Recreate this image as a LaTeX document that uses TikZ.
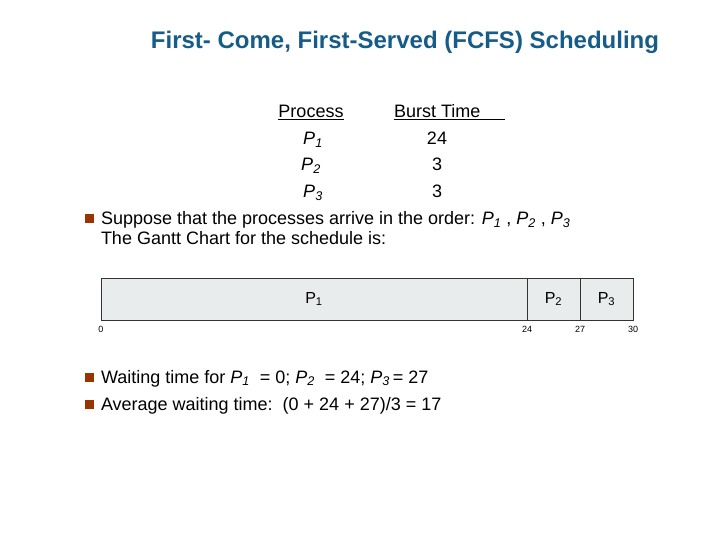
\documentclass[tikz,border=0pt]{standalone}
\usepackage{fontspec}
\setmainfont{Liberation Sans}
\usetikzlibrary{positioning}
\definecolor{titleblue}{RGB}{22,92,136}
\definecolor{bulletred}{RGB}{153,51,0}
\definecolor{ganttgray}{RGB}{232,236,236}
\newcommand{\proc}[1]{\textit{P}\textsubscript{\textit{#1}}}
\newcommand{\gproc}[1]{P\textsubscript{#1}}
\begin{document}
\begin{tikzpicture}[x=1pt,y=-1pt,
                    every node/.style={inner sep=0pt, outer sep=0pt, font=\fontsize{18}{20}\selectfont},
                    txt/.style={anchor=base west},
                    ctr/.style={anchor=base},
                    bullet/.style={rectangle, fill=bulletred, minimum size=9pt},
                    slot/.style={rectangle, draw=black!80, line width=0.5pt, fill=ganttgray, minimum height=42pt, font=\fontsize{16}{18}\selectfont},
                    tick/.style={anchor=north, font=\fontsize{9}{10}\selectfont}]
                    \useasboundingbox (0,0) rectangle (720,540);
                    \node[anchor=base, text=titleblue, font=\fontsize{24}{28}\selectfont\bfseries] (title) at (405,49) {First- Come, First-Served (FCFS) Scheduling};
                    % table
                    \node[ctr] (hproc) at (311,118) {\underline{Process}};
                    \node[txt] (hburst) at (394,118) {\underline{Burst Time\hspace{25pt}}};
                    \node[ctr] (p1) at (313,145) {\proc{1}};
                    \node[ctr] (p2) at (311,171) {\proc{2}};
                    \node[ctr] (p3) at (313,198) {\proc{3}};
                    \node[ctr] (t1) at (437,145) {24};
                    \node[ctr] (t2) at (437,171) {3};
                    \node[ctr] (t3) at (437,198) {3};
                    % bullets
                    \node[bullet] (b1) at (89,219) {};
                    \node[txt] (s1) at (101,225) {Suppose that the processes arrive in the order: \proc{1} , \proc{2} , \proc{3}};
                    \node[txt] (s2) at (101,244) {The Gantt Chart for the schedule is:};
                    % gantt chart
                    \node[slot, anchor=north west, minimum width=426pt] (g1) at (101,278) {\gproc{1}};
                    \node[slot, right=0pt of g1, minimum width=53pt] (g2) {\gproc{2}};
                    \node[slot, right=0pt of g2, minimum width=53pt] (g3) {\gproc{3}};
                    \node[tick] (c0) at (101,326) {0};
                    \node[tick] (c24) at (527,326) {24};
                    \node[tick] (c27) at (580,326) {27};
                    \node[tick] (c30) at (633,326) {30};
                    \node[bullet] (b2) at (89,377) {};
                    \node[txt] (w1) at (101,383) {Waiting time for \proc{1}\ \ = 0; \proc{2}\ \ = 24; \proc{3}\,= 27};
                    \node[bullet] (b3) at (89,404) {};
                    \node[txt] (w2) at (101,410) {Average waiting time:\ \ (0 + 24 + 27)/3 = 17};
                \end{tikzpicture}
\end{document}
